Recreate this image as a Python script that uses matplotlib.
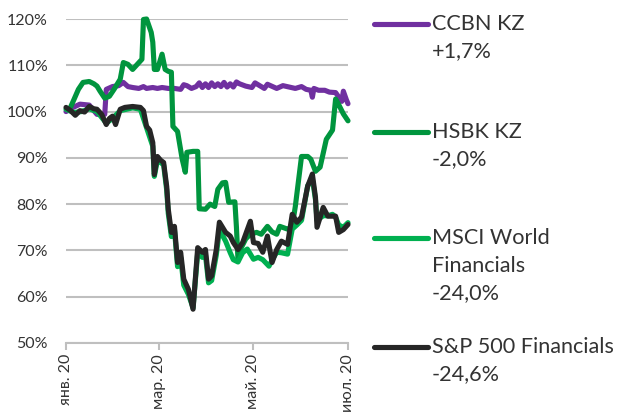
import numpy as np
import pandas as pd
import matplotlib
matplotlib.use("Agg")
import matplotlib.pyplot as plt
from matplotlib.lines import Line2D

plt.rcParams['font.family'] = ['Lato', 'DejaVu Sans']

# Data: day offsets from 1 Jan 2020, values in % of start level
start = pd.Timestamp('2020-01-01')

ccbn_days = [0, 4, 9, 15, 20, 25, 26, 30, 34, 37, 40, 43, 47, 50, 52, 56, 59, 62, 66, 70, 74,
             76, 78, 81, 84, 86, 88, 90, 92, 94, 96, 98, 100, 102, 104, 106, 108, 110, 112,
             116, 120, 122, 124, 128, 130, 132, 136, 140, 144, 148, 152, 155, 158, 159, 160,
             163, 167, 170, 174, 178, 179, 181, 182]
ccbn_vals = [100, 100.8, 101.6, 101.4, 99.4, 99.4, 104.8, 105.4, 105.6, 106.3, 105.4, 105.2,
             105.0, 105.4, 105.0, 105.2, 105.0, 105.2, 105.0, 105.0, 104.8, 105.8, 105.6,
             105.0, 105.4, 106.2, 105.2, 106.0, 105.2, 106.2, 105.4, 106.0, 105.4, 106.3,
             105.3, 106.0, 105.3, 106.4, 106.0, 105.5, 105.2, 106.2, 105.8, 105.0, 105.9,
             105.6, 105.0, 105.6, 105.3, 105.0, 105.4, 104.8, 104.6, 103.1, 105.0, 104.6,
             104.6, 104.2, 104.1, 102.2, 104.4, 102.5, 101.7]

hsbk_days = [3, 5, 8, 11, 15, 18, 20, 22, 25, 28, 31, 35, 37, 40, 43, 46, 49, 50, 52, 55,
             56, 57, 59, 62, 64, 66, 68, 69, 72, 75, 77, 78, 82, 85, 86, 90, 93, 96, 98,
             101, 103, 105, 109, 110, 111, 113, 116, 119, 123, 126, 130, 133, 136, 138,
             143, 146, 148, 152, 156, 158, 161, 164, 168, 171, 172, 174, 176, 179, 182]
hsbk_vals = [101, 102.5, 104.8, 106.3, 106.5, 106, 105.5, 104.4, 102.9, 103.3, 104.8, 107,
             110.6, 110.2, 109.1, 110.2, 111.3, 119.9, 120, 117.1, 115, 109.1, 109.1, 112.4,
             109.1, 108.7, 108.5, 96.8, 95.7, 89.7, 86.9, 91.2, 91.4, 91.4, 79, 78.9, 80,
             79.5, 83.2, 84.6, 84.7, 80.4, 80.5, 75, 68, 70.5, 72.5, 73.5, 73.9, 73.5, 75.2,
             74, 73.5, 75.2, 74.6, 75.2, 79.5, 90.3, 90.3, 89.7, 87.1, 88, 94, 95.5, 96,
             102.7, 101.5, 99.5, 98]

msci_days = [0, 5, 10, 15, 20, 26, 30, 35, 43, 48, 52, 56, 57, 59, 63, 65, 66, 68, 70, 72,
             74, 76, 79, 82, 85, 88, 90, 92, 94, 97, 99, 103, 106, 108, 111, 114, 117, 121,
             124, 127, 131, 134, 136, 139, 143, 146, 149, 152, 156, 159, 161, 162, 166, 169,
             172, 174, 176, 179, 182]
msci_vals = [100.5, 99.8, 100, 100.6, 100, 97.5, 98.5, 100.2, 100.8, 100.5, 96.5, 92.5, 86,
             89.5, 88.5, 83, 78, 73, 74.5, 66.5, 68.5, 62.5, 60.5, 57.6, 69.5, 68.5, 69, 63,
             63.5, 69, 74.5, 72, 69.5, 68, 67.5, 69.5, 70.3, 68.1, 68.5, 68, 66.6, 68.5,
             69.6, 69.5, 69.2, 74.6, 75.5, 76.5, 84, 85.5, 81, 76.5, 77.5, 77.5, 77.8, 77.2,
             75.5, 75, 76]

spx_days = [0, 3, 6, 9, 12, 15, 18, 20, 23, 26, 28, 30, 32, 35, 38, 43, 48, 50, 52, 54, 56,
            57, 59, 61, 63, 65, 66, 68, 70, 72, 74, 76, 79, 82, 85, 88, 90, 92, 94, 97, 99,
            103, 106, 108, 111, 114, 119, 121, 124, 127, 130, 133, 136, 139, 143, 146, 149,
            152, 156, 159, 161, 162, 166, 169, 174, 176, 179, 182]
spx_vals = [100.9, 100.2, 99.2, 100.2, 99.9, 101.1, 100.6, 100.5, 99.4, 97.2, 98.5, 99.0,
            97.2, 100.5, 100.9, 101.1, 100.9, 100.2, 96.8, 96, 93.3, 86.4, 90.3, 89.5, 89,
            83.8, 78.9, 73.9, 75.2, 67.4, 69.6, 63.8, 61.6, 57.3, 70.6, 69.6, 70.2, 63.8,
            64.5, 70.2, 76.1, 73.9, 73.1, 71.7, 70.2, 71.7, 76.3, 71.7, 71.5, 69.6, 73.1,
            67.4, 70.2, 72, 71.3, 77.8, 76.1, 77.2, 83.9, 86.5, 81.5, 75, 79.3, 77.4, 77.4,
            73.9, 74.5, 75.6]

names = ['CCBN KZ', 'HSBK KZ', 'MSCI World\nFinancials', 'S&P 500 Financials']
changes = ['+1,7%', '-2,0%', '-24,0%', '-24,6%']
colors = ['#7030a0', '#00953e', '#00b050', '#262626']

tick_dates = ['2020-01-01', '2020-03-01', '2020-05-01', '2020-07-01']
tick_labels = ['янв. 20', 'мар. 20', 'май. 20', 'июл. 20']


def to_dates(days):
    return start + pd.to_timedelta(days, unit='D')


W, H = 621, 413
fig = plt.figure(figsize=(W / 100, H / 100), dpi=100)
ax = fig.add_axes([66 / W, 1 - 343 / H, (348 - 66) / W, (343 - 19) / H])

series = [(ccbn_days, ccbn_vals), (hsbk_days, hsbk_vals), (msci_days, msci_vals), (spx_days, spx_vals)]
order = [0, 2, 1, 3]
for i in order:
    d, v = series[i]
    ax.plot(to_dates(d), v, color=colors[i], lw=3.7, solid_joinstyle='round',
            solid_capstyle='round', clip_on=False, zorder=3 + i)

ax.set_ylim(50, 120)
ax.set_xlim(pd.Timestamp('2020-01-01'), pd.Timestamp('2020-07-01'))
ax.set_yticks(np.arange(50, 121, 10))
ax.set_yticklabels([f'{v}%' for v in range(50, 121, 10)])
ax.set_xticks(pd.to_datetime(tick_dates))
ax.set_xticklabels(tick_labels, rotation=90, va='top', ha='center')
ax.grid(axis='y', color='#bfbfbf', lw=1.5)
ax.set_axisbelow(True)
for s in ['top', 'right', 'left']:
    ax.spines[s].set_visible(False)
ax.spines['bottom'].set_color('#bfbfbf')
ax.spines['bottom'].set_linewidth(1.5)
ax.tick_params(axis='y', length=0, pad=13, labelsize=11.5, labelcolor='#333333')
ax.tick_params(axis='x', length=5, width=1.5, color='#bfbfbf', pad=3, labelsize=11.5,
               labelcolor='#333333')

# legend drawn by hand at the right
line_y = [24, 132, 238, 347]
for i in range(4):
    y = line_y[i]
    fig.add_artist(Line2D([374 / W, 428 / W], [1 - y / H, 1 - y / H], color=colors[i],
                          lw=3.7, solid_capstyle='round'))
    rows = names[i].split('\n') + [changes[i]]
    for k, r in enumerate(rows):
        fig.text(432 / W, 1 - (y + 27.5 * k) / H, r, fontsize=15.6, color='#333333',
                 va='center', ha='left')

fig.savefig('out.png', dpi=100)
